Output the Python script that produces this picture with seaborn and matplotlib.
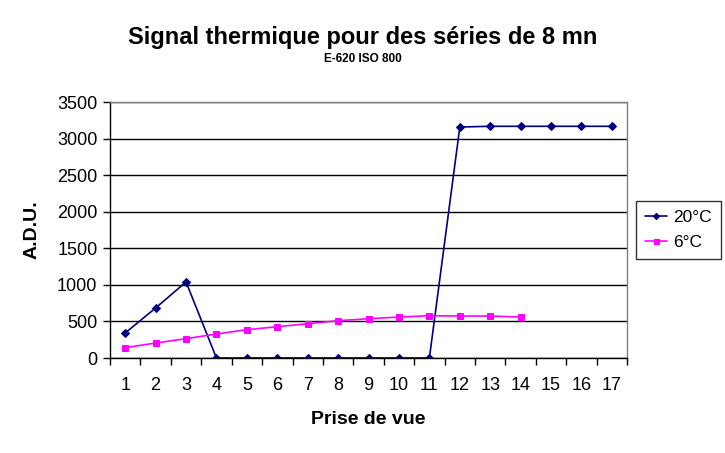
import numpy as np
import pandas as pd
import matplotlib.pyplot as plt
import seaborn as sns

# values
shots = list(range(1, 18))
adu_20c = [342, 684, 1040, 0, 0, 0, 0, 0, 0, 0, 0, 3158, 3168, 3168, 3168, 3168, 3168]
shots_6c = list(range(1, 15))
adu_6c = [141, 205, 264, 328, 387, 428, 469, 510, 537, 560, 578, 574, 574, 560]

df20 = pd.DataFrame({"shot": shots, "adu": adu_20c})
df6 = pd.DataFrame({"shot": shots_6c, "adu": adu_6c})

sns.set_theme(style="white")
plt.rcParams['font.family'] = ['Liberation Sans', 'DejaVu Sans']
plt.rcParams['text.color'] = 'black'
plt.rcParams['axes.labelcolor'] = 'black'
plt.rcParams['xtick.color'] = 'black'
plt.rcParams['ytick.color'] = 'black'

fig = plt.figure(figsize=(7.25, 4.53), dpi=100)
ax = fig.add_axes([0.1517, 0.2097, 0.7133, 0.5651])

sns.lineplot(data=df20, x="shot", y="adu", ax=ax, color="#000080", linewidth=1.2,
             marker="D", markersize=4, markeredgecolor="#000080", label="20°C")
sns.lineplot(data=df6, x="shot", y="adu", ax=ax, color="#FF00FF", linewidth=1.2,
             marker="s", markersize=4.5, markeredgecolor="#FF00FF", label="6°C")

ax.set_xlim(0.5, 17.5)
ax.set_ylim(0, 3500)
ax.set_yticks(np.arange(0, 3501, 500))
ax.yaxis.grid(True, color="black", linewidth=1)
ax.set_axisbelow(True)

# category axis: tick marks between categories, labels centred
ax.set_xticks(np.arange(0.5, 18, 1))
ax.set_xticklabels([])
ax.set_xticks(shots, minor=True)
ax.set_xticklabels([str(s) for s in shots], minor=True)
ax.tick_params(axis="x", which="major", length=5, width=1, color="black", direction="out")
ax.tick_params(axis="x", which="minor", length=0, pad=14, labelsize=13)
ax.tick_params(axis="y", length=5, width=1, color="black", direction="out", labelsize=13, pad=4)
ax.tick_params(bottom=True, left=True)

for side in ["left", "bottom"]:
    ax.spines[side].set_color("black")
    ax.spines[side].set_linewidth(1)
for side in ["top", "right"]:
    ax.spines[side].set_color("#808080")
    ax.spines[side].set_linewidth(1)

ax.set_xlabel("Prise de vue", fontsize=14, fontweight="bold", labelpad=12)
ax.set_ylabel("A.D.U.", fontsize=14, fontweight="bold", labelpad=12)

fig.text(0.5, 0.891, "Signal thermique pour des séries de 8 mn", ha="center", va="bottom",
         fontsize=17, fontweight="bold")
fig.text(0.5, 0.857, "E-620 ISO 800", ha="center", va="bottom", fontsize=8.5, fontweight="bold")

leg = ax.legend(loc="center left", bbox_to_anchor=(1.017, 0.5), frameon=True, fancybox=False,
                borderaxespad=0, fontsize=12.5, handlelength=1.3, borderpad=0.5,
                labelspacing=0.6, handletextpad=0.35, markerscale=0.8)
leg.get_frame().set_edgecolor("black")
leg.get_frame().set_linewidth(1)

plt.savefig("out.png", dpi=100)
